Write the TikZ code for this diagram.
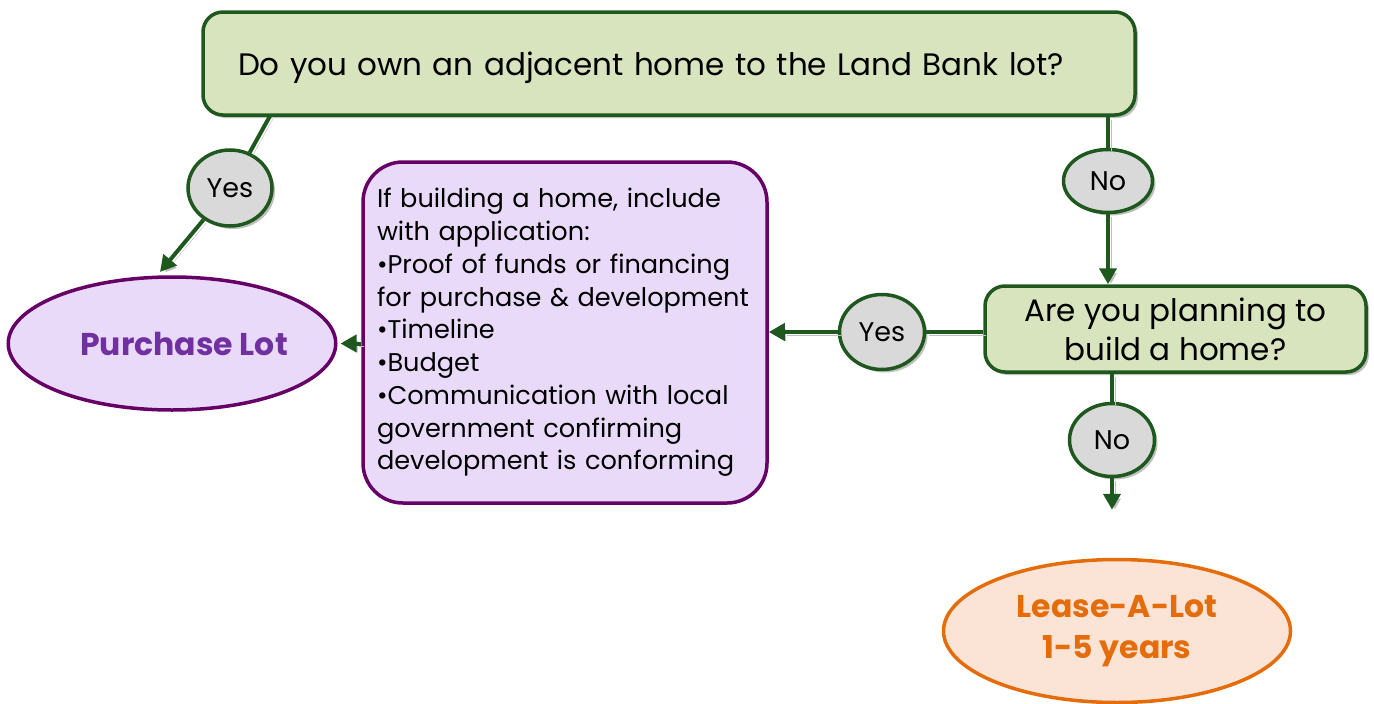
\documentclass[tikz,border=0pt]{standalone}
\usepackage{fontspec}
\setmainfont{Poppins}
\usetikzlibrary{shapes.geometric,arrows.meta,shadows}
\definecolor{leaf}{RGB}{215,228,189}
\definecolor{leafline}{RGB}{30,88,30}
\definecolor{answergray}{RGB}{217,217,217}
\definecolor{lilac}{RGB}{232,218,248}
\definecolor{plum}{RGB}{102,0,102}
\definecolor{grape}{RGB}{112,48,160}
\definecolor{peach}{RGB}{251,228,214}
\definecolor{pumpkin}{RGB}{228,108,10}

\begin{document}
\begin{tikzpicture}[x=1pt,y=-1pt,
    boxshadow/.style={drop shadow={shadow xshift=3pt,shadow yshift=-3pt,fill=black!25,opacity=1}},
    question/.style={draw=leafline,fill=leaf,line width=3.5pt,rounded corners=20pt,boxshadow,inner sep=0pt},
    answer/.style={ellipse,draw=leafline,fill=answergray,line width=3.5pt,inner sep=0pt,boxshadow,font=\fontsize{27}{30}\selectfont},
    outcome/.style={ellipse,line width=3.5pt,inner sep=0pt,align=center,font=\fontsize{31.5}{41}\selectfont\bfseries},
    flow/.style={draw=leafline,line width=4pt,preaction={draw=black!25,transform canvas={shift={(3pt,-3pt)}}}},
    flowarrow/.style={flow,-{Triangle[length=16pt,width=17pt]}}]
    \useasboundingbox (0,0) rectangle (1374,704);

    % Question boxes
    \node[question,minimum width=932pt,minimum height=103pt,text width=862pt,text depth=0pt,align=left,font=\fontsize{31}{35}\selectfont] (own) at (669,63.5) {Do you own an adjacent home to the Land Bank lot?};
    \node[question,minimum width=381pt,minimum height=86pt,align=center,font=\fontsize{31}{39}\selectfont] (build) at (1175.5,329) {Are you planning to\\build a home?};

    % Application box
    \node[draw=plum,fill=lilac,line width=3.5pt,rounded corners=40pt,inner sep=0pt,minimum width=404pt,minimum height=341pt,text width=376pt,align=left,font=\fontsize{25.6}{32.75}\selectfont] (info) at (565,332.5) {If building a home, include\\with application:\\•Proof of funds or financing\\for purchase \& development\\•Timeline\\•Budget\\•Communication with local\\government confirming\\development is conforming};

    % Outcomes
    \node[outcome,draw=plum,fill=lilac,text=grape,minimum width=325pt,minimum height=133pt] (buy) at (172,343.5) {\hspace*{24pt}Purchase Lot};
    \node[outcome,draw=pumpkin,fill=peach,text=pumpkin,minimum width=347pt,minimum height=143pt] (lease) at (1117,631) {Lease-A-Lot\\1-5 years};

    % Answers
    \node[answer,minimum width=84pt,minimum height=76pt] (yes1) at (230,188) {Yes};
    \node[answer,minimum width=89pt,minimum height=63pt] (no1) at (1108,181) {No};
    \node[answer,minimum width=85pt,minimum height=75pt] (yes2) at (882,332) {Yes};
    \node[answer,minimum width=85pt,minimum height=73pt] (no2) at (1112,440) {No};

    \coordinate (ownyes) at (270,116);
    \coordinate (buytop) at (160,272);

    % Connectors
    \draw[flow] (ownyes) -- (yes1);
    \draw[flowarrow] (yes1) -- (buytop);
    \draw[flow] (own.south -| no1) -- (no1);
    \draw[flowarrow] (no1) -- (build.north -| no1);
    \draw[flow] (build.west |- yes2) -- (yes2);
    \draw[flowarrow] (yes2) -- (info.east |- yes2);
    \draw[flowarrow,shorten >=3pt] (info.west |- buy.east) -- (buy.east);
    \draw[flow] (build.south -| no2) -- (no2);
    \draw[flowarrow,shorten >=48pt] (no2) -- (lease.north -| no2);
\end{tikzpicture}
\end{document}
